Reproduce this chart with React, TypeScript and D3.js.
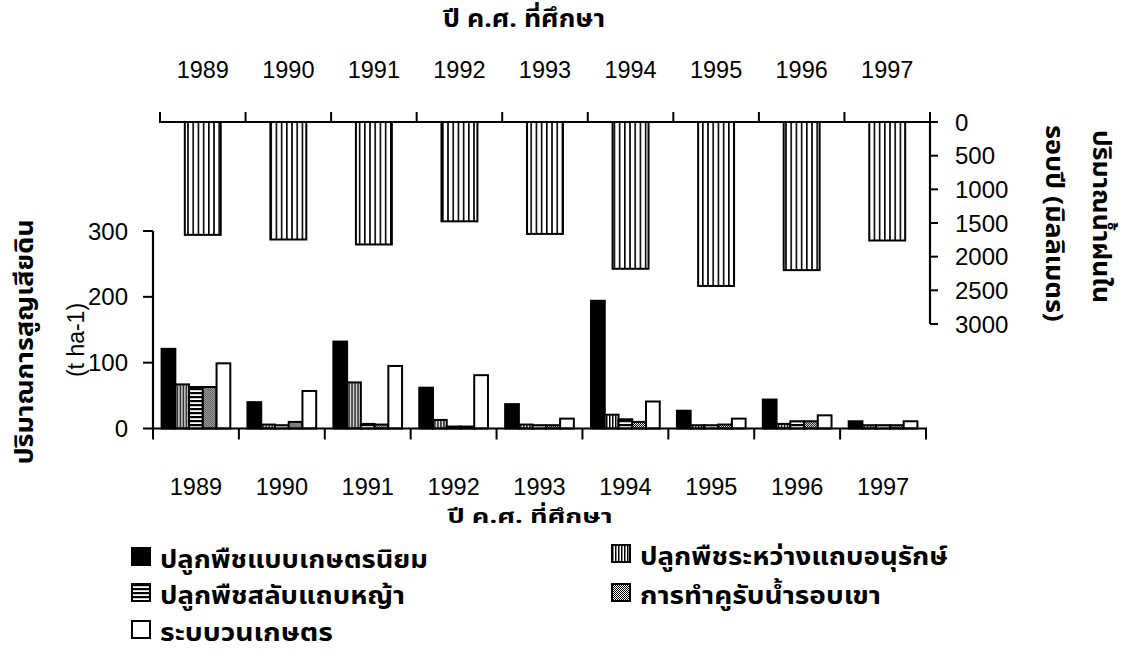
import React from 'react';
import * as d3 from 'd3';

// ---- data ----
const years = ['1989', '1990', '1991', '1992', '1993', '1994', '1995', '1996', '1997'];
// annual rainfall (mm), drawn hanging from top axis
const rainfall = [1676, 1745, 1819, 1475, 1662, 2180, 2435, 2200, 1760];
// soil loss (t ha-1) per practice
const conventional = [121, 40, 132, 62, 37, 194, 27, 44, 11];
const alleyCropping = [67, 6, 70, 13, 6, 21, 5, 7, 5];
const grassStrip = [63, 5, 7, 3, 5, 14, 5, 11, 5];
const hillsideDitch = [63, 10, 6, 3, 5, 10, 6, 11, 5];
const agroforestry = [99, 57, 95, 81, 15, 41, 15, 20, 11];

const seriesNames = [
  'ปลูกพืชแบบเกษตรนิยม',
  'ปลูกพืชระหว่างแถบอนุรักษ์',
  'ปลูกพืชสลับแถบหญ้า',
  'การทำคูรับน้ำรอบเขา',
  'ระบบวนเกษตร',
];
const seriesFills = ['#000', 'url(#vDense)', 'url(#hStripe)', 'url(#dots)', '#fff'];
const soilTicks = [0, 100, 200, 300];
const rainTicks = [0, 500, 1000, 1500, 2000, 2500, 3000];

const xTitle = 'ปี ค.ศ. ที่ศึกษา';
const ySoilTitle = 'ปริมาณการสูญเสียดิน';
const ySoilUnit = '(t ha-1)';
const yRainTitle1 = 'ปริมาณน้ำฝนใน';
const yRainTitle2 = 'รอบปี (มิลลิเมตร)';

const NUM_FONT = '"Liberation Sans", Arial, Helvetica, sans-serif';
const THAI_FONT = '"Noto Sans Thai", "Noto Sans Thai UI", Loma, Garuda, "Noto Sans", "DejaVu Sans", sans-serif';

export default function App() {
  const series = [conventional, alleyCropping, grassStrip, hillsideDitch, agroforestry];

  const xTop = d3.scaleBand<string>().domain(years).range([160, 930]).paddingInner(0.58).paddingOuter(0.29);
  const xBot = d3.scaleBand<string>().domain(years).range([153, 926]).paddingInner(0.2).paddingOuter(0.1);
  const xSub = d3.scaleBand<number>().domain(d3.range(series.length)).range([0, xBot.bandwidth()]);
  const yRain = d3.scaleLinear().domain([0, 3000]).range([122, 324]);
  const ySoil = d3.scaleLinear().domain([0, 300]).range([428.5, 231]);

  const topBounds = d3.range(years.length + 1).map((i) => 160 + i * xTop.step());
  const botBounds = d3.range(years.length + 1).map((i) => 153 + i * xBot.step());

  const legendPos = [
    { x: 132, y: 548, w: 268 },
    { x: 612, y: 545, w: 308 },
    { x: 132, y: 584, w: 245 },
    { x: 612, y: 584, w: 241 },
    { x: 132, y: 621, w: 173 },
  ];

  return (
    <svg
      width={1136}
      height={655}
      style={{ position: 'absolute', left: 0, top: 0, background: '#fff' }}
      xmlns="http://www.w3.org/2000/svg"
    >
      <defs>
        <pattern id="vTop" patternUnits="userSpaceOnUse" width={5.2} height={10}>
          <rect width={5.2} height={10} fill="#fff" />
          <rect x={0} width={1.6} height={10} fill="#000" />
        </pattern>
        <pattern id="vDense" patternUnits="userSpaceOnUse" width={3} height={10}>
          <rect width={3} height={10} fill="#fff" />
          <rect x={0} width={1.5} height={10} fill="#000" />
        </pattern>
        <pattern id="hStripe" patternUnits="userSpaceOnUse" width={10} height={4}>
          <rect width={10} height={4} fill="#fff" />
          <rect y={0} width={10} height={2.2} fill="#000" />
        </pattern>
        <pattern id="dots" patternUnits="userSpaceOnUse" width={2} height={2}>
          <rect width={2} height={2} fill="#fff" />
          <rect width={1} height={1} fill="#000" />
          <rect x={1} y={1} width={1} height={1} fill="#000" />
        </pattern>
      </defs>

      {/* ---------- top (rainfall) chart ---------- */}
      <text x={524} y={27} textAnchor="middle" fontFamily={THAI_FONT} fontWeight="bold" fontSize={24}
        textLength={162} lengthAdjust="spacingAndGlyphs">
        {xTitle}
      </text>
      {years.map((y) => (
        <text key={'ty' + y} x={xTop(y)! + xTop.bandwidth() / 2} y={78} textAnchor="middle" fontFamily={NUM_FONT} fontSize={23.5}>
          {y}
        </text>
      ))}
      {years.map((y, i) => (
        <rect
          key={'rb' + y}
          x={xTop(y)!}
          y={yRain(0)}
          width={xTop.bandwidth()}
          height={yRain(rainfall[i]) - yRain(0)}
          fill="url(#vTop)"
          stroke="#000"
          strokeWidth={2}
        />
      ))}
      <line x1={159} x2={931} y1={yRain(0)} y2={yRain(0)} stroke="#000" strokeWidth={2.2} />
      {topBounds.map((bx, i) => (
        <line key={'tt' + i} x1={bx} x2={bx} y1={yRain(0)} y2={yRain(0) - 10} stroke="#000" strokeWidth={2} />
      ))}
      <line x1={930} x2={930} y1={yRain(0)} y2={yRain(3000)} stroke="#000" strokeWidth={2.2} />
      {rainTicks.map((t) => (
        <g key={'rt' + t}>
          <line x1={930} x2={938} y1={yRain(t)} y2={yRain(t)} stroke="#000" strokeWidth={2} />
          <text x={955} y={yRain(t)} dy="0.36em" fontFamily={NUM_FONT} fontSize={24}>
            {t}
          </text>
        </g>
      ))}
      <text transform="translate(1093,130) rotate(90)" fontFamily={THAI_FONT} fontWeight="bold" fontSize={24}
        textLength={173} lengthAdjust="spacingAndGlyphs">
        {yRainTitle1}
      </text>
      <text transform="translate(1046,125) rotate(90)" fontFamily={THAI_FONT} fontWeight="bold" fontSize={24}
        textLength={197} lengthAdjust="spacingAndGlyphs">
        {yRainTitle2}
      </text>

      {/* ---------- bottom (soil loss) chart ---------- */}
      {years.map((y, i) => (
        <g key={'g' + y} transform={`translate(${xBot(y)},0)`}>
          {series.map((s, k) => (
            <rect
              key={k}
              x={xSub(k)!}
              y={ySoil(s[i])}
              width={xSub.bandwidth()}
              height={ySoil(0) - ySoil(s[i])}
              fill={seriesFills[k]}
              stroke="#000"
              strokeWidth={2}
            />
          ))}
        </g>
      ))}
      <line x1={153} x2={153} y1={ySoil(300)} y2={ySoil(0)} stroke="#000" strokeWidth={2.2} />
      {soilTicks.map((t) => (
        <g key={'st' + t}>
          <line x1={143} x2={153} y1={ySoil(t)} y2={ySoil(t)} stroke="#000" strokeWidth={2} />
          <text x={128} y={ySoil(t)} dy="0.36em" textAnchor="end" fontFamily={NUM_FONT} fontSize={24}>
            {t}
          </text>
        </g>
      ))}
      <line x1={152} x2={927} y1={ySoil(0)} y2={ySoil(0)} stroke="#000" strokeWidth={2.2} />
      {botBounds.map((bx, i) => (
        <line key={'bt' + i} x1={bx} x2={bx} y1={ySoil(0)} y2={ySoil(0) + 11} stroke="#000" strokeWidth={2} />
      ))}
      {years.map((y) => (
        <text key={'by' + y} x={xBot(y)! + xBot.bandwidth() / 2} y={495} textAnchor="middle" fontFamily={NUM_FONT} fontSize={23.5}>
          {y}
        </text>
      ))}
      <text x={530} y={523} textAnchor="middle" fontFamily={THAI_FONT} fontWeight="bold" fontSize={20}
        textLength={165} lengthAdjust="spacingAndGlyphs">
        {xTitle}
      </text>
      <text transform="translate(33,342) rotate(-90)" textAnchor="middle" fontFamily={THAI_FONT} fontWeight="bold" fontSize={25}
        textLength={245} lengthAdjust="spacingAndGlyphs">
        {ySoilTitle}
      </text>
      <text transform="translate(84,340) rotate(-90)" textAnchor="middle" fontFamily={NUM_FONT} fontSize={23}>
        {ySoilUnit}
      </text>

      {/* ---------- legend ---------- */}
      {seriesNames.map((name, k) => (
        <g key={'lg' + k} transform={`translate(${legendPos[k].x},${legendPos[k].y})`}>
          <rect x={0} y={0} width={18} height={17} fill={seriesFills[k]} stroke="#000" strokeWidth={2} />
          <text x={28} y={20} fontFamily={THAI_FONT} fontWeight="bold" fontSize={25}
            textLength={legendPos[k].w} lengthAdjust="spacingAndGlyphs">
            {name}
          </text>
        </g>
      ))}
    </svg>
  );
}
